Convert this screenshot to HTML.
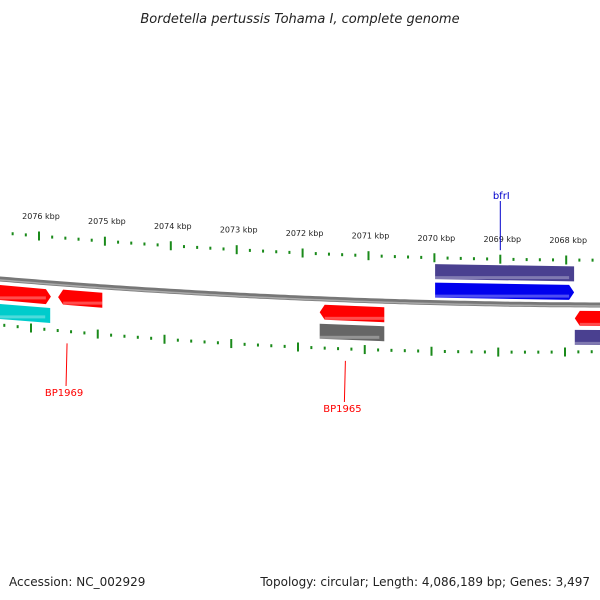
<!DOCTYPE html>
<html><head><meta charset="utf-8"><style>
body{margin:0;background:#fff}
svg{display:block;font-family:"DejaVu Sans","Liberation Sans",sans-serif}
</style></head><body>
<svg id="c" width="600" height="600" viewBox="0 0 600 600">
<text x="300" y="23" text-anchor="middle" font-size="13" font-style="italic" fill="#222">Bordetella pertussis Tohama I, complete genome</text>
<text x="9" y="586" font-size="12" fill="#222">Accession: NC_002929</text>
<text x="590" y="586" font-size="12" fill="#222" text-anchor="end">Topology: circular; Length: 4,086,189 bp; Genes: 3,497</text>
<g id="g"></g>
</svg>
<script>
const tickKbp=[2076,2075,2074,2073,2072,2071,2070,2069,2068];
const tickLabels=["2076 kbp","2075 kbp","2074 kbp","2073 kbp","2072 kbp","2071 kbp","2070 kbp","2069 kbp","2068 kbp"];
const geneStart=[2076.7,2075.71,2076.7,2071.74,2071.74,2069.99,2069.99,2067.87,2067.87];
const geneEnd=[2075.82,2075.04,2075.83,2070.76,2070.76,2067.88,2067.88,2067.2,2067.2];
const geneLane=[2,2,3,2,3,0,1,2,3];
const geneDir=[1,-1,0,-1,0,0,1,-1,0];
const geneColor=["#ff0000","#ff0000","#00cccc","#ff0000","#666666","#4a4090","#0000ee","#ff0000","#4a4090"];
const geneNames=["gene-red-1","gene-red-2","gene-cyan","gene-red-3","gene-gray","gene-navy","gene-blue-bfrI","gene-red-4","gene-navy-2"];
const labelNames=["bfrI","BP1969","BP1965"];
const labelKbp=[2069,2075.46,2071.29];
const labelY=[195,392,408];
const labelColors=["#0000cc","#ff0000","#ff0000"];

const NS="http://www.w3.org/2000/svg";
const g=document.getElementById('g');
function mk(t,a){const e=document.createElementNS(NS,t);for(const k in a)e.setAttribute(k,a[k]);g.appendChild(e);return e;}
const xTop=k=>39+(2076-k)*65.9;
const yTop=x=>{const t=(x-39)/527;return 236+44*t-20*t*t;};
const xBot=k=>31+(2076-k)*66.75;
const yBot=x=>{const t=(x-31)/534;return 328+52*t-28*t*t;};
const yBack=x=>{const t=x/600;return 279+50*t-24*t*t;};
const laneOff=[-31,-12.5,13.5,32.5];

// backbone
let d="";for(let x=-5;x<=605;x+=5)d+=(x<0?"M":"L")+x+","+yBack(x).toFixed(1);
let bb=mk('path',{d:d,stroke:'#777',"stroke-width":5,fill:'none'});


let bb2=mk('path',{d:d,stroke:'#aaa',"stroke-width":1.5,fill:'none',transform:'translate(0,1)'});



// tick rows
for(let k=2077;k>=2066.8;k-=0.2){
  const kk=Math.round(k*5)/5;const major=Math.abs(kk-Math.round(kk))<1e-6;
  [[xTop,yTop],[xBot,yBot]].forEach(([fx,fy],i)=>{
    const x=fx(kk);if(x<2||x>598)return;const y=fy(x);
    const r=major?mk('rect',{x:x-1,y:y-4.5,width:2,height:9,fill:'#1a8a1a'}):mk('rect',{x:x-1,y:y-1.5,width:2,height:3,fill:'#1a8a1a'});
    
    
  });
}
tickKbp.forEach((k,i)=>{
  const x=xTop(k);const t=mk('text',{x:x+2,y:yTop(x)-17,"font-size":8,"text-anchor":"middle",fill:'#222'});
  t.textContent=tickLabels[i];
  
  
});

// genes
geneStart.forEach((s,i)=>{
  const x1=xTop(s),x2=xTop(geneEnd[i]);const off=laneOff[geneLane[i]];const h=7.5;
  const y1=yBack(x1)+off,y2=yBack(x2)+off;const dir=geneDir[i];
  let pts;
  if(dir===1)pts=[[x1,y1-h],[x2-5,y2-h],[x2,y2],[x2-5,y2+h],[x1,y1+h]];
  else if(dir===-1)pts=[[x1+5,y1-h],[x2,y2-h],[x2,y2+h],[x1+5,y1+h],[x1,y1]];
  else pts=[[x1,y1-h],[x2,y2-h],[x2,y2+h],[x1,y1+h]];
  const p=mk('polygon',{points:pts.map(q=>q.map(v=>v.toFixed(1)).join(',')).join(' '),fill:geneColor[i]});
  
  
  const sh=mk('rect',{x:Math.min(x1,x2)+(dir===-1?5:0),y:Math.min(y1,y2)+h-3,width:Math.abs(x2-x1)-5,height:3,fill:'#fff',opacity:0.3});
  
  
});

// labels
labelNames.forEach((n,i)=>{
  const top=i===0;const x=top?xTop(labelKbp[i]):xBot(labelKbp[i]);
  const ly=labelY[i];
  const l=top?mk('line',{x1:x,y1:ly+6,x2:x,y2:yTop(x)-9,stroke:labelColors[i],"stroke-width":1})
             :mk('line',{x1:x,y1:yBot(x)+12,x2:x-1,y2:ly-6,stroke:labelColors[i],"stroke-width":1});
  
  
  const t=mk('text',{x:top?x+1:x-3,y:ly+4,"font-size":10,"text-anchor":"middle",fill:labelColors[i]});
  t.textContent=n;
  
  
});
</script>
</body></html>
